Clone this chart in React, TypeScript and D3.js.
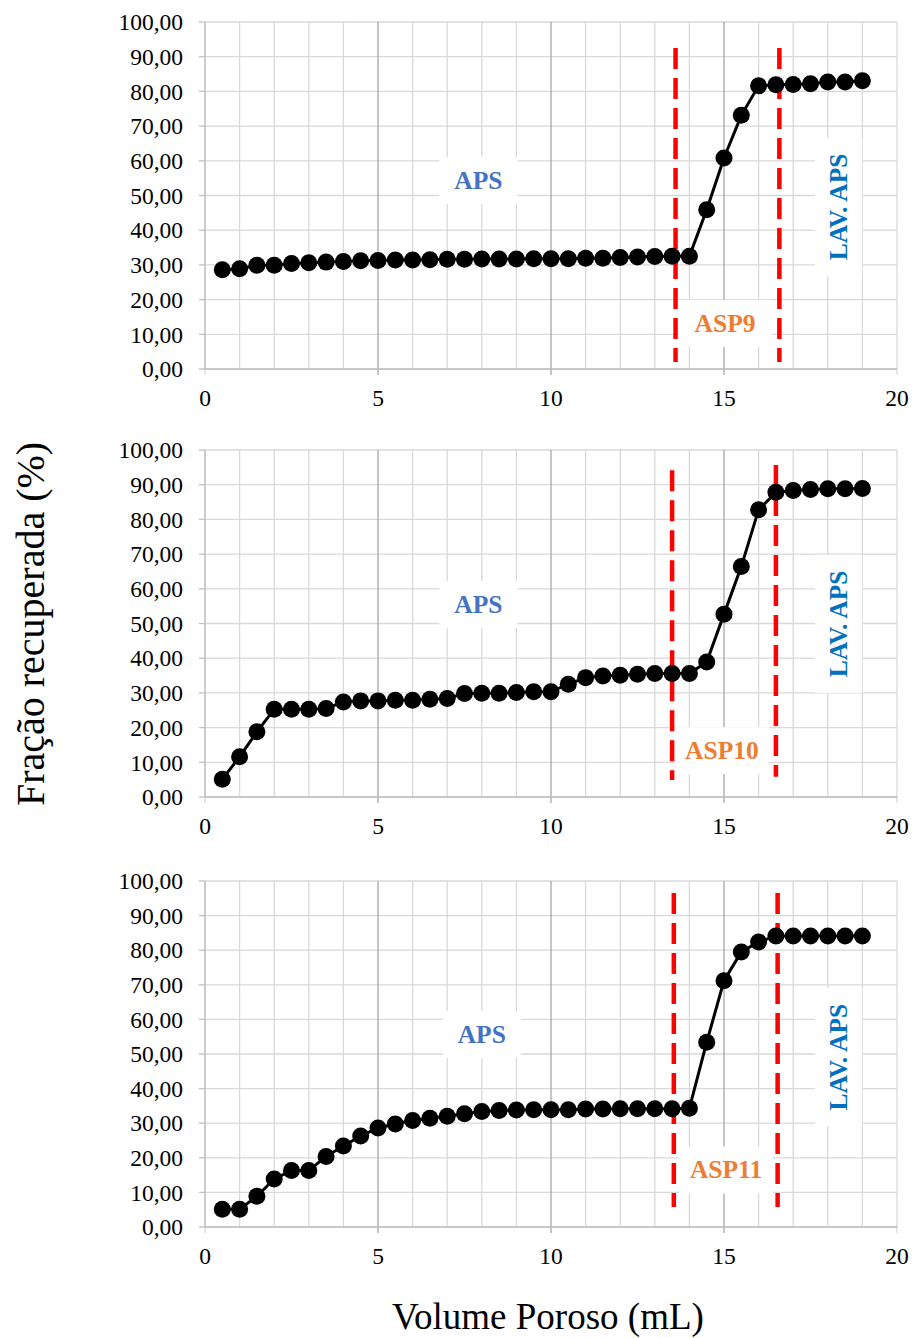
import React from "react";
import * as d3 from "d3";

const volume = [
  0.5, 1, 1.5, 2, 2.5, 3, 3.5, 4, 4.5, 5, 5.5, 6, 6.5, 7, 7.5, 8, 8.5, 9, 9.5,
  10, 10.5, 11, 11.5, 12, 12.5, 13, 13.5, 14, 14.5, 15, 15.5, 16, 16.5, 17,
  17.5, 18, 18.5, 19,
];

const asp9 = [
  28.6, 28.9, 29.9, 29.9, 30.4, 30.6, 30.8, 31.0, 31.2, 31.3, 31.4, 31.4, 31.5,
  31.6, 31.6, 31.7, 31.7, 31.7, 31.8, 31.8, 31.8, 31.9, 31.9, 32.1, 32.3, 32.4,
  32.5, 32.5, 45.9, 60.8, 73.1, 81.6, 81.9, 82.0, 82.2, 82.7, 82.7, 83.1,
];

const asp10 = [
  5.1, 11.6, 18.8, 25.3, 25.3, 25.3, 25.5, 27.4, 27.7, 27.7, 27.9, 27.9, 28.2,
  28.4, 29.8, 29.9, 29.9, 30.1, 30.3, 30.3, 32.5, 34.4, 34.9, 35.1, 35.4, 35.6,
  35.6, 35.6, 38.9, 52.7, 66.4, 82.8, 87.8, 88.3, 88.6, 88.8, 88.8, 88.9,
];

const asp11 = [
  5.1, 5.1, 8.9, 13.9, 16.3, 16.3, 20.4, 23.4, 26.3, 28.6, 29.8, 30.8, 31.4,
  32.0, 32.7, 33.4, 33.7, 33.8, 33.9, 33.9, 33.9, 34.1, 34.1, 34.2, 34.2, 34.2,
  34.2, 34.3, 53.4, 71.2, 79.5, 82.4, 84.1, 84.1, 84.1, 84.1, 84.1, 84.1,
];

const seriesNames = ["ASP9", "ASP10", "ASP11"];
const seriesValues = [asp9, asp10, asp11];

// red dashed boundaries (x) and their vertical extent (y from, y to)
const dashX = [
  [13.6, 16.6],
  [13.5, 16.5],
  [13.55, 16.55],
];
const dashY = [
  [2.0, 92.5, 2.0, 92.5],
  [4.9, 94.2, 5.8, 95.7],
  [5.8, 96.5, 5.8, 96.5],
];

// label anchors [x, y] in data units
const apsPos = [
  [7.9, 54.5],
  [7.9, 55.6],
  [8.0, 55.8],
];
const aspPos = [
  [15.03, 13.3],
  [14.94, 13.5],
  [15.06, 16.6],
];
const lavPos = [
  [18.3, 46.7],
  [18.3, 49.9],
  [18.3, 49.1],
];

const xTicks = [0, 5, 10, 15, 20];
const yTicks = [0, 10, 20, 30, 40, 50, 60, 70, 80, 90, 100];

const W = 915;
const H = 1338;
const LEFT = 205;
const RIGHT = 897;
const TOPS = [22, 450, 881];
const HEIGHTS = [347, 347, 346];
const FONT = "'Liberation Serif', 'Times New Roman', serif";

const fmt = (v: number) => v.toFixed(2).replace(".", ",");

const Panel = ({ idx }: { idx: number }) => {
  const top = TOPS[idx];
  const bottom = top + HEIGHTS[idx];
  const x = d3.scaleLinear().domain([0, 20]).range([LEFT, RIGHT]);
  const y = d3.scaleLinear().domain([0, 100]).range([bottom, top]);
  const values = seriesValues[idx];
  const pts: [number, number][] = volume.map((v, i) => [x(v), y(values[i])]);
  const line = d3.line();
  const minor = d3.range(0, 21, 1);

  return (
    <g>
      {/* horizontal grid */}
      {yTicks.map((t) => (
        <line key={"h" + t} x1={LEFT} x2={RIGHT} y1={y(t)} y2={y(t)} stroke="#d9d9d9" strokeWidth={1.3} />
      ))}
      {/* vertical grid */}
      {minor.map((t) => (
        <line
          key={"v" + t}
          x1={x(t)}
          x2={x(t)}
          y1={top}
          y2={t % 5 === 0 ? bottom + 6 : bottom}
          stroke={t % 5 === 0 && t > 0 && t < 20 ? "#a6a6a6" : "#d9d9d9"}
          strokeWidth={1.3}
        />
      ))}
      {/* y tick marks */}
      {yTicks.map((t) => (
        <line key={"yt" + t} x1={LEFT - 6} x2={LEFT} y1={y(t)} y2={y(t)} stroke="#bfbfbf" strokeWidth={1.3} />
      ))}
      <line x1={LEFT} x2={LEFT} y1={top} y2={bottom} stroke="#bfbfbf" strokeWidth={1.3} />
      <line x1={LEFT} x2={RIGHT} y1={bottom} y2={bottom} stroke="#bfbfbf" strokeWidth={1.3} />
      {yTicks.map((t) => (
        <text
          key={"yl" + t}
          x={LEFT - 22}
          y={y(t)}
          dy="0.35em"
          textAnchor="end"
          fontFamily={FONT}
          fontSize={23.5}
          fill="#000"
        >
          {fmt(t)}
        </text>
      ))}
      {xTicks.map((t) => (
        <text
          key={"xl" + t}
          x={x(t)}
          y={bottom + 29}
          dy="0.35em"
          textAnchor="middle"
          fontFamily={FONT}
          fontSize={23.5}
          fill="#000"
        >
          {t}
        </text>
      ))}

      {/* APS label */}
      <rect x={x(apsPos[idx][0]) - 39} y={y(apsPos[idx][1]) - 23} width={78} height={47} fill="#fff" />
      <text
        x={x(apsPos[idx][0])}
        y={y(apsPos[idx][1])}
        dy="0.35em"
        textAnchor="middle"
        fontFamily={FONT}
        fontWeight="bold"
        fontSize={25.5}
        fill="#4472c4"
      >
        APS
      </text>

      {/* ASP label */}
      <rect x={x(aspPos[idx][0]) - 47} y={y(aspPos[idx][1]) - 23} width={94} height={47} fill="#fff" />
      <text
        x={x(aspPos[idx][0])}
        y={y(aspPos[idx][1])}
        dy="0.35em"
        textAnchor="middle"
        fontFamily={FONT}
        fontWeight="bold"
        fontSize={25.5}
        fill="#ed7d31"
      >
        {seriesNames[idx]}
      </text>

      {/* LAV. APS label */}
      <rect x={x(lavPos[idx][0]) - 23} y={y(lavPos[idx][1]) - 69} width={47} height={138} fill="#fff" />
      <text
        transform={`translate(${x(lavPos[idx][0])},${y(lavPos[idx][1])}) rotate(-90)`}
        dy="0.35em"
        textAnchor="middle"
        fontFamily={FONT}
        fontWeight="bold"
        fontSize={25.5}
        fill="#0070c0"
      >
        LAV. APS
      </text>

      {/* dashed boundaries */}
      {dashX[idx].map((dx, k) => (
        <line
          key={"d" + k}
          x1={x(dx)}
          x2={x(dx)}
          y1={y(dashY[idx][k * 2 + 1])}
          y2={y(dashY[idx][k * 2])}
          stroke="#ff0000"
          strokeWidth={4.5}
          strokeDasharray="21 9"
        />
      ))}

      <path d={line(pts)!} fill="none" stroke="#000" strokeWidth={3} />
      {pts.map((p, i) => (
        <circle key={i} cx={p[0]} cy={p[1]} r={8.5} fill="#000" />
      ))}
    </g>
  );
};

const App = () => {
  return (
    <svg
      width={W}
      height={H}
      style={{ position: "absolute", left: 0, top: 0, background: "#fff" }}
    >
      <rect width={W} height={H} fill="#fff" />
      {[0, 1, 2].map((i) => (
        <Panel key={i} idx={i} />
      ))}
      <text
        transform={`translate(30,624) rotate(-90)`}
        dy="0.35em"
        textAnchor="middle"
        fontFamily={FONT}
        fontSize={40}
        fill="#000"
      >
        Fração recuperada (%)
      </text>
      <text
        x={548}
        y={1316}
        dy="0.35em"
        textAnchor="middle"
        fontFamily={FONT}
        fontSize={37}
        fill="#000"
      >
        Volume Poroso (mL)
      </text>
    </svg>
  );
};

export default App;
